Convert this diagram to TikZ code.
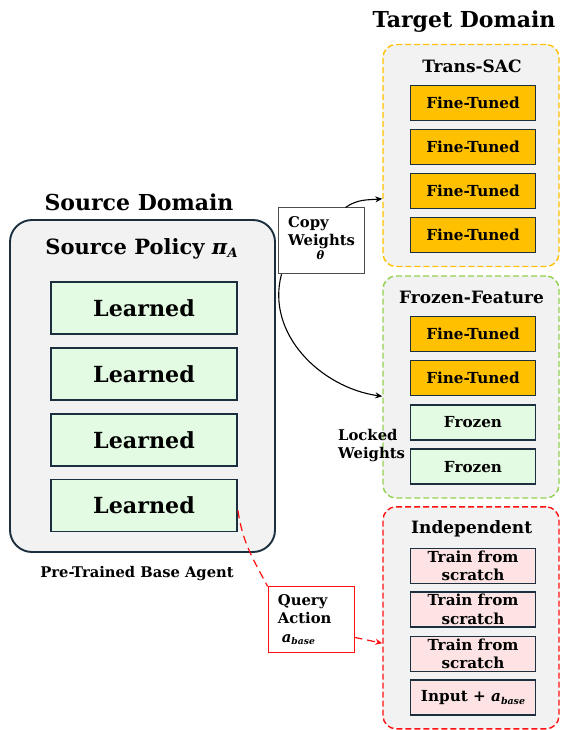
\documentclass[tikz,border=0pt]{standalone}
\usepackage{fontspec}
\setmainfont{DejaVu Serif}
\usetikzlibrary{positioning}
\usetikzlibrary{arrows.meta}
\definecolor{panelgray}{HTML}{F2F2F2}
\definecolor{navy}{HTML}{1B2F3F}
\definecolor{learngreen}{HTML}{E3FBE3}
\definecolor{tuned}{HTML}{FFC000}
\definecolor{scratchpink}{HTML}{FDE3E3}
\definecolor{frozengreen}{HTML}{92D050}
\definecolor{indepred}{HTML}{FF1010}
% bold italic symbol with a lowered, shrunken index
\newcommand\subvar[2]{\textit{#1}\raisebox{-0.3ex}{\scalebox{0.62}{\textit{#2}}}}

\begin{document}
\begin{tikzpicture}[x=1pt,y=-1pt,font=\bfseries,
    srcpanel/.style={draw=navy,fill=panelgray,line width=1.9pt,rounded corners=22pt,
      minimum width=265pt,minimum height=332pt,inner sep=0pt},
    tgtpanel/.style={draw=#1,fill=panelgray,line width=1.4pt,dash pattern=on 6pt off 3pt,
      rounded corners=13pt,minimum width=176pt,minimum height=222pt,inner sep=0pt},
    learnbox/.style={draw=navy,fill=learngreen,line width=1.9pt,minimum width=186pt,
      minimum height=52pt,inner sep=0pt,font=\bfseries\fontsize{22.2}{24}\selectfont},
    layerbox/.style={draw=navy,fill=#1,line width=1.8pt,minimum width=125pt,
      minimum height=35pt,inner sep=0pt,align=center,font=\bfseries\fontsize{15.2}{18.5}\selectfont},
    domtitle/.style={anchor=base,font=\bfseries\fontsize{22}{24}\selectfont},
    ptitle/.style={anchor=base,font=\bfseries\fontsize{17}{18}\selectfont},
    note/.style={draw=#1,fill=white,line width=0.8pt,minimum width=86pt,minimum height=66pt,
      inner sep=0pt},
    notetext/.style={anchor=north west,align=left,inner sep=0pt,
      font=\bfseries\fontsize{14.8}{18.5}\selectfont},
    flow/.style={-{Stealth[length=7pt,width=6pt]},line width=1.1pt}]
  \useasboundingbox (0,0) rectangle (561,730);

  % source side
  \node[domtitle] (srctitle) at (139,210) {Source Domain};
  \node[srcpanel] (src) at (142.5,386) {};
  \node[domtitle,font=\bfseries\fontsize{21}{24}\selectfont] (policy) at (141.5,254)
    {Source Policy \subvar{π}{A}};
  \foreach \y [count=\i] in {308,374,440,505.5}
    \node[learnbox] (l\i) at (144,\y) {Learned};
  \node[anchor=base,font=\bfseries\fontsize{14.7}{16}\selectfont] (base) at (137,577)
    {Pre-Trained Base Agent};

  % target side
  \node[domtitle] (tgttitle) at (464,28) {Target Domain};
  \node[tgtpanel=tuned] (trans) at (471,155.5) {};
  \node[tgtpanel=frozengreen] (frozen) at (471,387) {};
  \node[tgtpanel=indepred] (indep) at (471,617.8) {};
  \node[ptitle] at (472,72.5) {Trans-SAC};
  \node[ptitle] at (471.5,303.5) {Frozen-Feature};
  \node[ptitle] at (471.7,533.5) {Independent};

  \foreach \y [count=\i] in {103,147,191,235}
    \node[layerbox=tuned] (t\i) at (473,\y) {Fine-Tuned};
  \foreach \y [count=\i] in {334,378}
    \node[layerbox=tuned] (f\i) at (473,\y) {Fine-Tuned};
  \foreach \y [count=\i] in {422.5,466.7}
    \node[layerbox=learngreen] (z\i) at (473,\y) {Frozen};
  \foreach \y [count=\i] in {566,609.5,654}
    \node[layerbox=scratchpink] (s\i) at (473,\y) {Train from\\scratch};
  \node[layerbox=scratchpink] (inp) at (473,697.7) {Input + \subvar{a}{base}};

  % transfer notes
  \node[note=black!70] (copy) at (321.3,240.8) {};
  \node[notetext] at (288,216) {Copy\\Weights};
  \node[font=\bfseries\fontsize{11.5}{12}\selectfont,anchor=base] at (320.5,259) {\textit{θ}};
  \node[notetext] (locked) at (338,429) {Locked\\Weights};
  \node[note=indepred] (query) at (311,619.8) {};
  \node[notetext] at (277.7,594) {Query\\Action\\\hspace{4pt}\subvar{a}{base}};

  \draw[flow] (copy.54) to[out=35,in=185] (trans.206);
  \draw[flow] (copy.220) to[out=-105,in=172] (frozen.186);
  \draw[indepred,line width=1.2pt,dash pattern=on 8pt off 5pt] (l4.-3) to[out=-82,in=118] (query.north west);
  \draw[indepred,line width=1.2pt,dash pattern=on 8pt off 5pt,-{Stealth[length=7pt,width=6pt]}]
    (query.-22) -- (indep.196);
\end{tikzpicture}
\end{document}
